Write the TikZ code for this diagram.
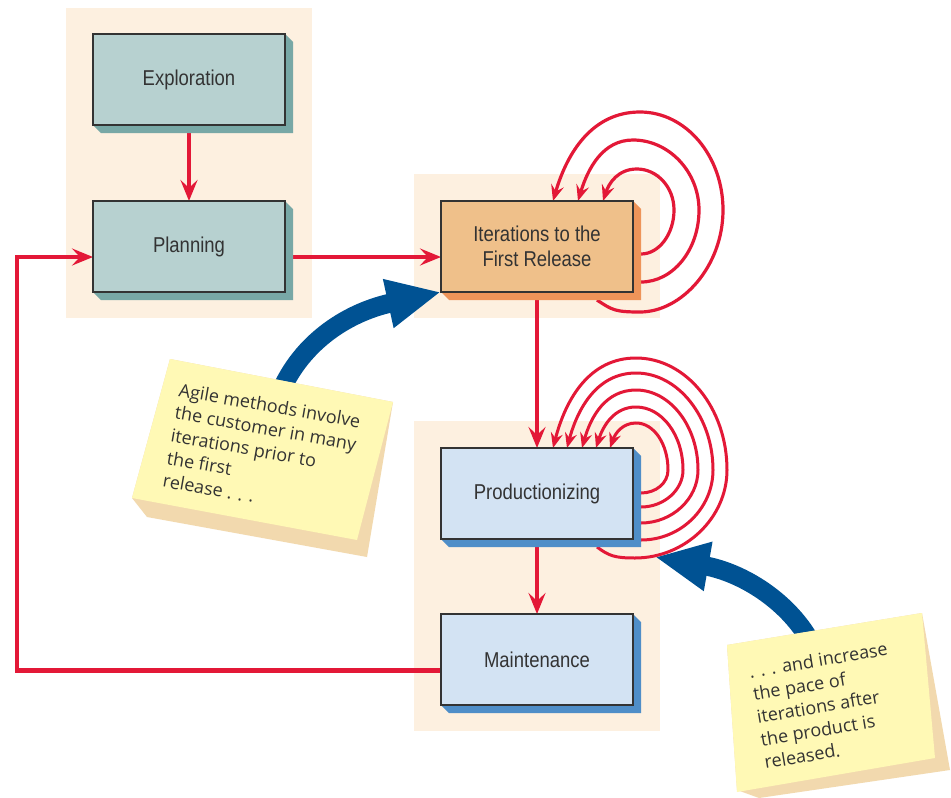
\documentclass[tikz,border=0pt]{standalone}
\usepackage{fontspec}
\setmainfont{Liberation Sans}
\newfontfamily\boxfont{Liberation Sans}[FakeStretch=0.86]
\newfontfamily\notefont{Open Sans}
\usetikzlibrary{arrows.meta,calc}
\definecolor{panelbg}{RGB}{253,240,224}
\definecolor{tealfill}{RGB}{183,209,208}
\definecolor{tealshad}{RGB}{120,168,166}
\definecolor{orfill}{RGB}{239,192,138}
\definecolor{orshad}{RGB}{238,148,89}
\definecolor{blfill}{RGB}{211,227,243}
\definecolor{blshad}{RGB}{79,142,200}
\definecolor{redc}{RGB}{227,24,55}
\definecolor{bluec}{RGB}{0,82,147}
\definecolor{noteyel}{RGB}{255,249,181}
\definecolor{notetan}{RGB}{242,217,174}
\definecolor{txt}{RGB}{51,51,51}
\pgfdeclarelayer{bg}
\pgfdeclarelayer{mid}
\pgfdeclarelayer{shad}
\pgfsetlayers{bg,mid,shad,main}
\newcommand{\boxshadow}[2]{\fill[#2] (#1.south west) -- ++(8,8) -- ($(#1.south east)+(8,8)$) -- ($(#1.north east)+(8,8)$) -- (#1.north east) -- cycle;}
\begin{document}
\begin{tikzpicture}[x=1pt,y=-1pt,
  stage/.style={draw=txt, line width=1.3pt, outer sep=0pt, minimum width=192pt, minimum height=91pt,
    font=\boxfont\fontsize{21.5}{25}\selectfont, text=txt, align=center, inner sep=0pt},
  flow/.style={draw=redc, line width=4.5pt, -{Stealth[length=21pt,width=17pt,inset=8pt]}},
  loopy/.style={draw=redc, line width=3.2pt, -{Stealth[length=16pt,width=13pt,inset=6pt]}},
  loopp/.style={draw=redc, line width=3pt, -{Stealth[length=15pt,width=12pt,inset=5pt]}},
  bluearrow/.style={draw=bluec, line width=19pt, -{Triangle[length=54pt,width=46pt]}},
  notetext/.style={font=\notefont\fontsize{18}{23}\selectfont, text=txt, align=left, inner sep=0pt, anchor=north west}
]
\useasboundingbox (0,0) rectangle (951,798);
\begin{pgfonlayer}{bg}
  \fill[white] (0,0) rectangle (951,798);
  \fill[panelbg] (66,8) rectangle (312,318);
  \fill[panelbg] (414,174) rectangle (660,318);
  \fill[panelbg] (414,421) rectangle (660,731);
\end{pgfonlayer}

\node[stage, fill=tealfill] (expl) at (189,79.5) {Exploration};
\node[stage, fill=tealfill] (plan) at (189,246.5) {Planning};
\node[stage, fill=orfill] (iter) at (537,246.5) {Iterations to the\\First Release};
\node[stage, fill=blfill] (prod) at (537,493.5) {Productionizing};
\node[stage, fill=blfill] (maint) at (537,659.5) {Maintenance};

\begin{pgfonlayer}{shad}
  \boxshadow{expl}{tealshad}
  \boxshadow{plan}{tealshad}
  \boxshadow{iter}{orshad}
  \boxshadow{prod}{blshad}
  \boxshadow{maint}{blshad}
\end{pgfonlayer}

\coordinate (mw) at ([yshift=-11pt]maint.west);
\coordinate (pw) at ([yshift=-10.5pt]plan.west);
\coordinate (retx) at (17,0);

\begin{pgfonlayer}{mid}
  \draw[flow] (expl.south) -- (plan.north);
  \draw[flow] ([yshift=-10.5pt]plan.east) -- ([yshift=-10.5pt]iter.west);
  \draw[flow] (iter.south) -- (prod.north);
  \draw[flow] (prod.south) -- (maint.north);
  \draw[flow] (mw) -- (mw -| retx) -- (pw -| retx) -- (pw);
  % loops at Iterations
  \draw[loopy] ($(iter.north west)+(200,53)$) .. controls +(18,0) and +(0,24) .. ($(iter.north west)+(233,9)$)
     .. controls +(0,-23) and +(20,0) .. ($(iter.north west)+(196,-32)$)
     .. controls +(-19,0) and +(6,-18) .. ($(iter.north west)+(162,0)$);
  \draw[loopy] ($(iter.north west)+(200,81)$) .. controls +(32,0) and +(0,40) .. ($(iter.north west)+(258,9)$)
     .. controls +(0,-38) and +(36,0) .. ($(iter.north west)+(192,-61)$)
     .. controls +(-30,0) and +(10,-33) .. ($(iter.north west)+(137,0)$);
  \draw[loopy] ($(iter.north west)+(156,99)$) .. controls +(15,10) and +(-25,0) .. ($(iter.north west)+(199,111)$)
     .. controls +(42,0) and +(0,56) .. ($(iter.north west)+(282,9)$)
     .. controls +(0,-54) and +(46,0) .. ($(iter.north west)+(199,-89)$)
     .. controls +(-48,0) and +(14,-48) .. ($(iter.north west)+(112,0)$);
  % loops at Productionizing
  \draw[loopp] ($(prod.north west)+(200,45)$) .. controls +(15,0) and +(0,13) .. ($(prod.north west)+(227,22)$)
     .. controls +(0,-26) and +(18,0) .. ($(prod.north west)+(195,-25)$)
     .. controls +(-14,0) and +(5,-14) .. ($(prod.north west)+(169,0)$);
  \draw[loopp] ($(prod.north west)+(200,59)$) .. controls +(23,0) and +(0,20) .. ($(prod.north west)+(242,22)$)
     .. controls +(0,-35) and +(26,0) .. ($(prod.north west)+(195,-41)$)
     .. controls +(-22,0) and +(7,-22) .. ($(prod.north west)+(155,0)$);
  \draw[loopp] ($(prod.north west)+(200,75)$) .. controls +(31,0) and +(0,29) .. ($(prod.north west)+(257,22)$)
     .. controls +(0,-44) and +(34,0) .. ($(prod.north west)+(195,-58)$)
     .. controls +(-30,0) and +(9,-32) .. ($(prod.north west)+(141,0)$);
  \draw[loopp] ($(prod.north west)+(200,92)$) .. controls +(40,0) and +(0,38) .. ($(prod.north west)+(272,22)$)
     .. controls +(0,-53) and +(42,0) .. ($(prod.north west)+(195,-75)$)
     .. controls +(-38,0) and +(11,-41) .. ($(prod.north west)+(126,0)$);
  \draw[loopp] ($(prod.north west)+(156,99)$) .. controls +(12,9) and +(-20,0) .. ($(prod.north west)+(194,110)$)
     .. controls +(50,0) and +(0,48) .. ($(prod.north west)+(286,22)$)
     .. controls +(0,-62) and +(50,0) .. ($(prod.north west)+(195,-90)$)
     .. controls +(-46,0) and +(13,-50) .. ($(prod.north west)+(112,0)$);
\end{pgfonlayer}

% blue arrows
\coordinate (b1) at (278,398);
\coordinate (b2) at (814,648);
\coordinate (t2) at ($(prod.south east)+(22,18)$);
\draw[bluearrow] (b1) .. controls (298,345) and (345,313) .. (iter.south west);
\draw[bluearrow] (b2) .. controls (790,600) and (740,572) .. (t2);

% sticky notes
\fill[notetan] (170,359) -- (393,402) -- (367,557) -- (147,517) -- (132,498) -- cycle;
\fill[noteyel] (170,359) -- (393,402) -- (357,540) -- (132,498) -- cycle;
\node[notetext, rotate=-10] (n1) at (180.4,382.5) {Agile methods involve\\the customer in many\\iterations prior to\\the first\\release . . .};

\fill[notetan] (727,645) -- (922,613) -- (950,770) -- (759,798) -- (737,790) -- cycle;
\fill[noteyel] (727,645) -- (922,613) -- (935,758) -- (737,792) -- cycle;
\node[notetext, rotate=9.5] (n2) at (748,664.5) {. . . and increase\\the pace of\\iterations after\\the product is\\released.};
\end{tikzpicture}
\end{document}
